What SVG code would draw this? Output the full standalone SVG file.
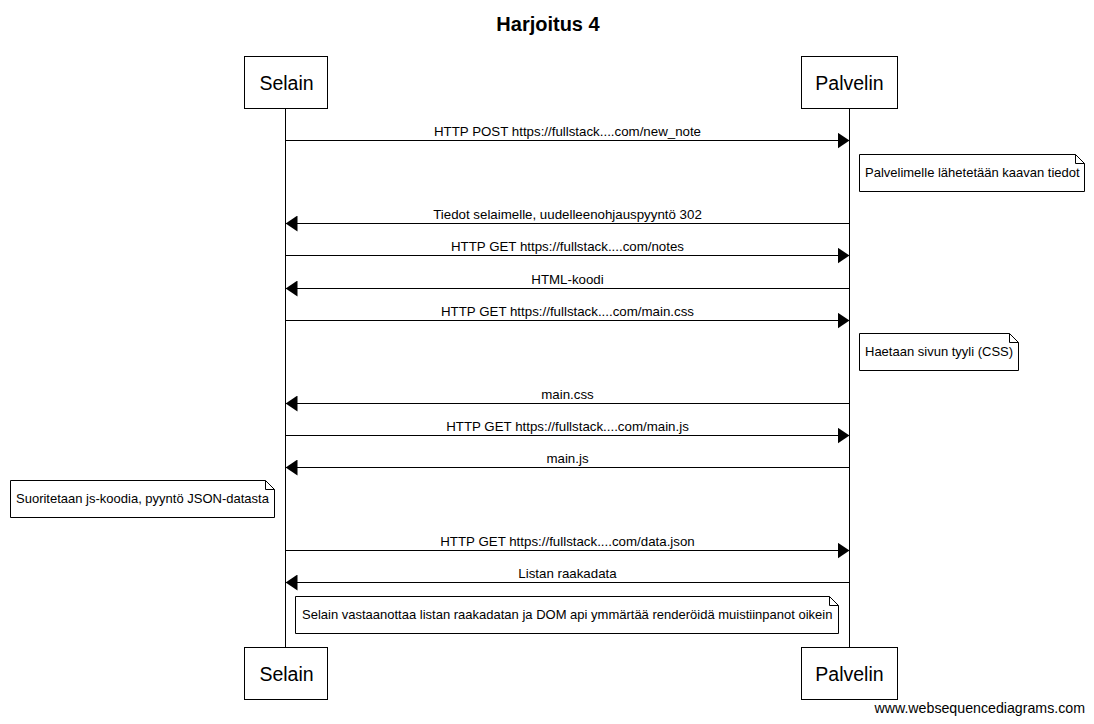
<svg xmlns="http://www.w3.org/2000/svg" width="1094" height="724" viewBox="0 0 1094 724">
<style>
.bg{fill:#fff}
.box{fill:#fff;stroke:#000;stroke-width:1}
.life{stroke:#000;stroke-width:1}
.msg{stroke:#000;stroke-width:1;fill:none}
.note{fill:#fff;stroke:#000;stroke-width:1}
.pt{font-family:"Liberation Sans",Arial,sans-serif;font-size:19.5px;text-anchor:middle}
.lbl{font-family:"Liberation Sans",Arial,sans-serif;font-size:13.3px;text-anchor:middle}
.nt{font-family:"Liberation Sans",Arial,sans-serif;font-size:13px}
.title{font-family:"Liberation Sans",Arial,sans-serif;font-size:20px;font-weight:bold;text-anchor:middle}
.foot{font-family:"Liberation Sans",Arial,sans-serif;font-size:14.2px;text-anchor:end}
</style>
<defs>
<marker id="ah" markerWidth="12" markerHeight="16" refX="12" refY="8" orient="auto" markerUnits="userSpaceOnUse">
<path d="M0,0 L12,8 L0,16 Z" fill="#000"/>
</marker>
</defs>
<rect class="bg" x="0" y="0" width="1094" height="724"/>
<text class="title" x="548" y="31">Harjoitus 4</text>
<g id="lifelines">
<line class="life" x1="285.5" y1="108" x2="285.5" y2="647"/>
<line class="life" x1="849.5" y1="108" x2="849.5" y2="647"/>
</g>
<g id="selain-top"><rect class="box" x="244.5" y="56.5" width="83" height="52"/><text class="pt" x="286.5" y="90">Selain</text></g>
<g id="palvelin-top"><rect class="box" x="801.5" y="56.5" width="96" height="52"/><text class="pt" x="849.5" y="90">Palvelin</text></g>
<g id="selain-bottom"><rect class="box" x="244.5" y="647.5" width="83" height="52"/><text class="pt" x="286.5" y="681">Selain</text></g>
<g id="palvelin-bottom"><rect class="box" x="801.5" y="647.5" width="96" height="52"/><text class="pt" x="849.5" y="681">Palvelin</text></g>
<g id="connectors">
<line class="msg" x1="285.5" y1="140.5" x2="849.5" y2="140.5" marker-end="url(#ah)"/>
<text class="lbl" x="567.5" y="136">HTTP POST https://fullstack....com/new_note</text>
<line class="msg" x1="849.5" y1="223.5" x2="285.5" y2="223.5" marker-end="url(#ah)"/>
<text class="lbl" x="567.5" y="219">Tiedot selaimelle, uudelleenohjauspyyntö 302</text>
<line class="msg" x1="285.5" y1="255.5" x2="849.5" y2="255.5" marker-end="url(#ah)"/>
<text class="lbl" x="567.5" y="251">HTTP GET https://fullstack....com/notes</text>
<line class="msg" x1="849.5" y1="288.5" x2="285.5" y2="288.5" marker-end="url(#ah)"/>
<text class="lbl" x="567.5" y="284">HTML-koodi</text>
<line class="msg" x1="285.5" y1="320.5" x2="849.5" y2="320.5" marker-end="url(#ah)"/>
<text class="lbl" x="567.5" y="316">HTTP GET https://fullstack....com/main.css</text>
<line class="msg" x1="849.5" y1="403.5" x2="285.5" y2="403.5" marker-end="url(#ah)"/>
<text class="lbl" x="567.5" y="399">main.css</text>
<line class="msg" x1="285.5" y1="435.5" x2="849.5" y2="435.5" marker-end="url(#ah)"/>
<text class="lbl" x="567.5" y="431">HTTP GET https://fullstack....com/main.js</text>
<line class="msg" x1="849.5" y1="467.5" x2="285.5" y2="467.5" marker-end="url(#ah)"/>
<text class="lbl" x="567.5" y="463">main.js</text>
<line class="msg" x1="285.5" y1="550.5" x2="849.5" y2="550.5" marker-end="url(#ah)"/>
<text class="lbl" x="567.5" y="546">HTTP GET https://fullstack....com/data.json</text>
<line class="msg" x1="849.5" y1="582.5" x2="285.5" y2="582.5" marker-end="url(#ah)"/>
<text class="lbl" x="567.5" y="578">Listan raakadata</text>
</g>
<g id="note1"><path class="note" d="M859.5,154.5 H1075.5 L1084.5,163.5 V191.5 H859.5 Z M1075.5,154.5 V163.5 H1084.5"/><text class="nt" x="865" y="177">Palvelimelle lähetetään kaavan tiedot</text></g>
<g id="note2"><path class="note" d="M859.5,333.5 H1009.5 L1018.5,342.5 V370.5 H859.5 Z M1009.5,333.5 V342.5 H1018.5"/><text class="nt" x="865" y="356">Haetaan sivun tyyli (CSS)</text></g>
<g id="note3"><path class="note" d="M10.5,480.5 H265.5 L274.5,489.5 V517.5 H10.5 Z M265.5,480.5 V489.5 H274.5"/><text class="nt" x="16" y="503">Suoritetaan js-koodia, pyyntö JSON-datasta</text></g>
<g id="note4"><path class="note" d="M295.5,596.5 H829.5 L838.5,605.5 V633.5 H295.5 Z M829.5,596.5 V605.5 H838.5"/><text class="nt" x="302" y="619">Selain vastaanottaa listan raakadatan ja DOM api ymmärtää renderöidä muistiinpanot oikein</text></g>
<text class="foot" x="1085" y="713">www.websequencediagrams.com</text>
</svg>
